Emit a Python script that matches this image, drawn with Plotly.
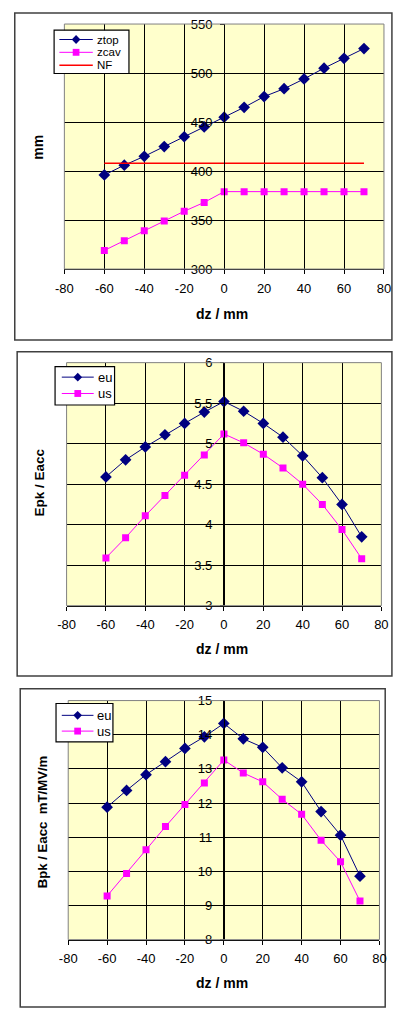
import plotly.graph_objects as go

W, H = 397, 1012

dz = [-60, -50, -40, -30, -20, -10, 0, 10, 20, 30, 40, 50, 60, 70]

# Chart 1
ztop = [396, 406, 415, 425, 435, 445, 455, 465, 476, 484, 494, 505, 515, 525]
zcav = [319, 329, 339, 349, 359, 368, 379, 379, 379, 379, 379, 379, 379, 379]
nf_x = [-60, 70]
nf_y = [408, 408]

# Chart 2
epk_eu = [4.59, 4.80, 4.96, 5.11, 5.25, 5.39, 5.52, 5.40, 5.25, 5.08, 4.85, 4.58, 4.25, 3.85]
epk_us = [3.59, 3.84, 4.11, 4.36, 4.61, 4.86, 5.12, 5.01, 4.87, 4.70, 4.50, 4.25, 3.94, 3.58]

# Chart 3
bpk_eu = [11.88, 12.37, 12.83, 13.21, 13.60, 13.94, 14.33, 13.88, 13.63, 13.03, 12.62, 11.75, 11.06, 9.86]
bpk_us = [9.28, 9.94, 10.63, 11.31, 11.96, 12.59, 13.26, 12.88, 12.62, 12.11, 11.67, 10.91, 10.28, 9.13]

x_ticks = [-80, -60, -40, -20, 0, 20, 40, 60, 80]
x_labels = ["-80", "-60", "-40", "-20", "0", "20", "40", "60", "80"]

NAVY = "#000080"
MAG = "#FF00FF"
RED = "#FF0000"
FONT = "Liberation Sans, Arial, sans-serif"


def px(x):
    return x / W


def py(y):
    return 1 - y / H


panels = [
    dict(l=57.7, r=390.7, t=17.3, b=266.0, yr=[300, 550], dt=50, ylab="mm", ysize=14,
         ytitle_xy=(30, 142), xtitle_y=312, frame=(6, 6, 399, 338),
         lbox=(47, 23.5, 125, 67.5), lrows=[33, 46, 59], lline=(52.5, 87.3), ltext=90.5,
         lfont=11.5),
    dict(l=60.0, r=388.0, t=361.0, b=607.7, yr=[3, 6], dt=0.5, ylab="Epk / Eacc", ysize=13.5,
         ytitle_xy=(32, 483), xtitle_y=652, frame=(8.5, 350, 399, 679),
         lbox=(48, 365, 110, 404), lrows=[375.7, 392.3], lline=(55, 88.3), ltext=92,
         lfont=13),
    dict(l=61.7, r=386.0, t=704.0, b=946.7, yr=[8, 15], dt=1,
         ylab="Bpk / Eacc&nbsp; mT/MV/m", ysize=13.2,
         ytitle_xy=(35, 827), xtitle_y=991, frame=(11.7, 692, 392, 1015),
         lbox=(49, 707, 108.3, 746), lrows=[719, 735], lline=(55, 88), ltext=90.5,
         lfont=13),
]

series = [
    [("ztop", dz, ztop, NAVY, "diamond", 9), ("zcav", dz, zcav, MAG, "square", 7),
     ("NF", nf_x, nf_y, RED, None, 0)],
    [("eu", dz, epk_eu, NAVY, "diamond", 9), ("us", dz, epk_us, MAG, "square", 7)],
    [("eu", dz, bpk_eu, NAVY, "diamond", 9), ("us", dz, bpk_us, MAG, "square", 7)],
]

fig = go.Figure()
shapes = []
annotations = []
layout_axes = {}


def marker_path(sym, cx, cy, size):
    h = size / 2.0
    if sym == "diamond":
        pts = [(cx, cy - h), (cx + h, cy), (cx, cy + h), (cx - h, cy)]
    else:
        pts = [(cx - h, cy - h), (cx + h, cy - h), (cx + h, cy + h), (cx - h, cy + h)]
    return "M " + " L ".join("%.5f,%.5f" % (px(x), py(y)) for x, y in pts) + " Z"


for i, (p, ser) in enumerate(zip(panels, series)):
    n = "" if i == 0 else str(i + 1)
    xa = "x" + n
    ya = "y" + n
    for name, xs, ys, col, sym, ms in ser:
        if sym:
            fig.add_trace(go.Scatter(x=xs, y=ys, name=name, mode="lines+markers",
                                     line=dict(color=col, width=1),
                                     marker=dict(symbol=sym, size=ms, color=col,
                                                 line=dict(width=0)),
                                     xaxis=xa, yaxis=ya, showlegend=False))
        else:
            fig.add_trace(go.Scatter(x=xs, y=ys, name=name, mode="lines",
                                     line=dict(color=col, width=1.5),
                                     xaxis=xa, yaxis=ya, showlegend=False))
    xd = [px(p["l"]), px(p["r"])]
    yd = [py(p["b"]), py(p["t"])]
    ypos = (xd[0] + xd[1]) / 2
    layout_axes["xaxis" + n] = dict(
        domain=xd, anchor=ya, range=[-80, 80], tickvals=x_ticks, ticktext=x_labels,
        showgrid=True, gridcolor="black", gridwidth=1, zeroline=False,
        showline=True, linecolor="black", linewidth=1,
        ticks="outside", ticklen=4, tickcolor="black",
        tickfont=dict(family=FONT, size=13, color="black"),
        ticklabelstandoff=3, fixedrange=True)
    layout_axes["yaxis" + n] = dict(
        domain=yd, anchor="free", position=ypos, range=p["yr"], dtick=p["dt"],
        showgrid=True, gridcolor="black", gridwidth=1, zeroline=False,
        showline=True, linecolor="black", linewidth=1,
        ticks="outside", ticklen=4, tickcolor="black",
        tickfont=dict(family=FONT, size=13, color="black"),
        ticklabelstandoff=5, fixedrange=True)
    # plot area border
    shapes.append(dict(type="rect", xref=xa + " domain", yref=ya + " domain",
                       x0=0, x1=1, y0=0, y1=1, line=dict(color="#808080", width=1),
                       layer="above"))
    # chart frame
    fx0, fy0, fx1, fy1 = p["frame"]
    shapes.append(dict(type="rect", xref="paper", yref="paper",
                       x0=px(fx0), x1=px(fx1), y0=py(fy1), y1=py(fy0),
                       line=dict(color="#404040", width=1.5), layer="below"))
    # legend box
    bx0, by0, bx1, by1 = p["lbox"]
    shapes.append(dict(type="rect", xref="paper", yref="paper",
                       x0=px(bx0), x1=px(bx1), y0=py(by1), y1=py(by0),
                       fillcolor="white", line=dict(color="black", width=1.2),
                       layer="above"))
    lx0, lx1 = p["lline"]
    for (name, xs, ys, col, sym, ms), ry in zip(ser, p["lrows"]):
        shapes.append(dict(type="line", xref="paper", yref="paper",
                           x0=px(lx0), x1=px(lx1), y0=py(ry), y1=py(ry),
                           line=dict(color=col, width=1.5 if sym is None else 1),
                           layer="above"))
        if sym:
            shapes.append(dict(type="path", xref="paper", yref="paper",
                               path=marker_path(sym, (lx0 + lx1) / 2, ry, ms),
                               fillcolor=col, line=dict(width=0), layer="above"))
        annotations.append(dict(text=name, x=px(p["ltext"]), y=py(ry), xref="paper",
                                yref="paper", showarrow=False, xanchor="left",
                                yanchor="middle", borderpad=0,
                                font=dict(family=FONT, size=p["lfont"], color="black")))
    tx, ty = p["ytitle_xy"]
    annotations.append(dict(text="<b>" + p["ylab"] + "</b>", x=px(tx), y=py(ty),
                            xref="paper", yref="paper", showarrow=False, textangle=-90,
                            font=dict(family=FONT, size=p["ysize"], color="black"),
                            xanchor="center", yanchor="middle"))
    annotations.append(dict(text="<b>dz / mm</b>", x=px(222), y=py(p["xtitle_y"]),
                            xref="paper", yref="paper", showarrow=False,
                            font=dict(family=FONT, size=14, color="black"),
                            xanchor="center", yanchor="middle"))

fig.update_layout(
    width=W, height=H, margin=dict(l=0, r=0, t=0, b=0),
    paper_bgcolor="white", plot_bgcolor="#FFFFCC",
    showlegend=False, shapes=shapes, annotations=annotations,
    **layout_axes)

fig.write_html("out.html", config=dict(displayModeBar=False))
